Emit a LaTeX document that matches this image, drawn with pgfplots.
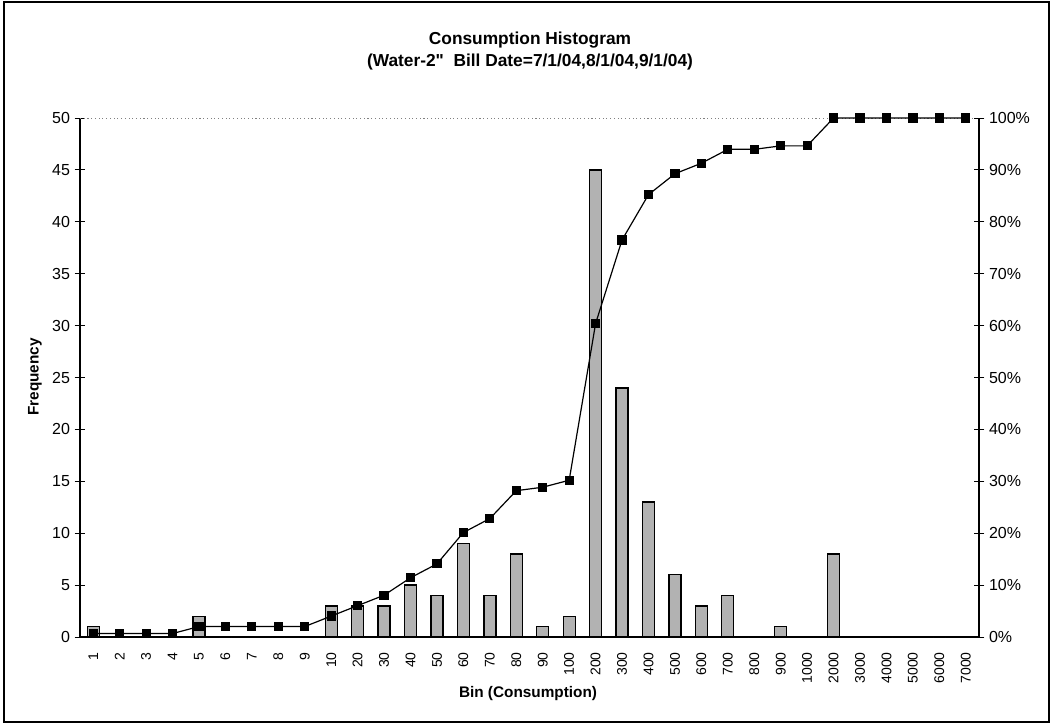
\documentclass[border=0pt]{standalone}
\usepackage{pgfplots}
\pgfplotsset{compat=1.18}
\usepackage{fontspec}
\setmainfont{Liberation Sans}
\newfontfamily\qfont{Liberation Sans}[Ligatures=TeXOff]
\begin{document}
\begin{tikzpicture}
\path[use as bounding box] (0pt,0pt) rectangle (789pt,543pt);
\draw[line width=1.2pt] (3pt,1.5pt) rectangle (786.75pt,541.5pt);
\node[font=\bfseries\fontsize{13}{15}\selectfont] at (397.5pt,513pt) {Consumption Histogram};
\node[font=\bfseries\fontsize{13}{15}\selectfont] at (397.5pt,496.5pt) {(Water-2{\qfont\bfseries "}\ \ Bill Date=7/1/04,8/1/04,9/1/04)};
\node[font=\bfseries\fontsize{11.5}{13}\selectfont, rotate=90] at (26.25pt,260.25pt) {Frequency};
\node[font=\bfseries\fontsize{11.5}{13}\selectfont] at (396pt,23pt) {Bin (Consumption)};

\pgfplotsset{
  common/.style={
    at={(60pt,65.25pt)}, anchor=south west,
    scale only axis, width=674.25pt, height=389.25pt,
    xmin=-0.5, xmax=33.5,
    tick style={black, line width=0.7pt},
    tick align=center,
    major tick length=8pt,
    yticklabel style={font=\fontsize{12}{14}\selectfont},
    /pgf/number format/assume math mode=true,
  }
}
\begin{axis}[common,
  ymin=0, ymax=50, ytick={0,5,...,50},
  axis x line*=bottom, axis y line*=left,
  axis line style={black, line width=0.9pt},
  xtick={0,...,33},
  xticklabels={1,2,3,4,5,6,7,8,9,10,20,30,40,50,60,70,80,90,100,200,300,400,500,600,700,800,900,1000,2000,3000,4000,5000,6000,7000},
  xticklabel style={rotate=90, anchor=east, font=\fontsize{10.5}{12}\selectfont},
  xtick style={draw=none},
  minor xtick={-0.5,0.5,...,33.5},
  minor tick length=8pt,
  minor tick style={black, line width=0.7pt},
  ybar, bar width=9pt,
]
\draw[gray, dotted, line width=0.8pt] (rel axis cs:0,1) -- (rel axis cs:1,1);
\addplot[draw=black, line width=1pt, fill=black!30] coordinates {
(0,1) (1,0) (2,0) (3,0) (4,2) (5,0) (6,0) (7,0) (8,0)
(9,3) (10,3) (11,3) (12,5) (13,4) (14,9) (15,4) (16,8) (17,1) (18,2)
(19,45) (20,24) (21,13) (22,6) (23,3) (24,4) (25,0) (26,1) (27,0)
(28,8) (29,0) (30,0) (31,0) (32,0) (33,0)
};
\end{axis}
\begin{axis}[common,
  ymin=0, ymax=100, ytick={0,10,...,100},
  yticklabels={0\%,10\%,20\%,30\%,40\%,50\%,60\%,70\%,80\%,90\%,100\%},
  axis y line*=right, axis x line=none,
  axis line style={black, line width=0.9pt},
]
\addplot[black, line width=0.9pt, mark=square*, mark size=3pt, mark options={fill=black}] coordinates {
(0,0.67) (1,0.67) (2,0.67) (3,0.67) (4,2.01) (5,2.01) (6,2.01) (7,2.01) (8,2.01)
(9,4.03) (10,6.04) (11,8.05) (12,11.41) (13,14.09) (14,20.13) (15,22.82) (16,28.19) (17,28.86) (18,30.20)
(19,60.40) (20,76.51) (21,85.23) (22,89.26) (23,91.28) (24,93.96) (25,93.96) (26,94.63) (27,94.63)
(28,100) (29,100) (30,100) (31,100) (32,100) (33,100)
};
\end{axis}
\end{tikzpicture}
\end{document}
